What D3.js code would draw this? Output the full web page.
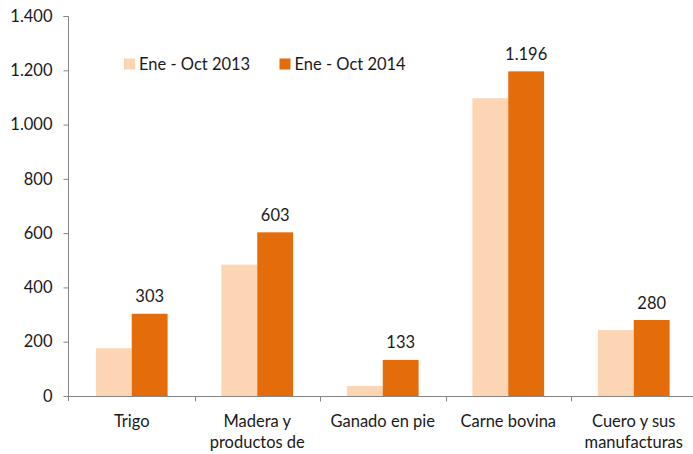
<!DOCTYPE html>
<html>
<head>
<meta charset="utf-8">
<script src="https://cdn.jsdelivr.net/npm/d3@7"></script>
<style>
  body { margin: 0; background: #fff; }
  text { font-family: Lato, "Open Sans", sans-serif; fill: #1a1a1a; }
</style>
</head>
<body>
<svg id="fig"></svg>
<script>
const categories = ['Trigo', 'Madera y productos de', 'Ganado en pie', 'Carne bovina', 'Cuero y sus manufacturas'];
const catLines = [['Trigo'], ['Madera y', 'productos de'], ['Ganado en pie'], ['Carne bovina'], ['Cuero y sus', 'manufacturas']];
const series = ['Ene - Oct 2013', 'Ene - Oct 2014'];
const values2013 = [176, 484, 37, 1097, 243];
const values2014 = [303, 603, 133, 1196, 280];
const labels2014 = ['303', '603', '133', '1.196', '280'];
const yTicks = [0, 200, 400, 600, 800, 1000, 1200, 1400];
const colors = ['#FCD5B5', '#E46C0A'];

const width = 693, height = 454;
const fmt = d => d3.format(',')(d).replace(/,/g, '.');

const svg = d3.select('#fig').attr('width', width).attr('height', height);

const yScale = d3.scaleLinear().domain([0, 1400]).range([396, 16]);
const xScale = d3.scaleBand().domain(categories).range([69, 696.5]).padding(0);
const xInner = d3.scaleBand().domain(series).range([0, xScale.bandwidth()])
    .paddingInner(0).paddingOuter(0.75);

// y axis
const yAxis = svg.append('g').attr('transform', 'translate(68.5,0)')
    .call(d3.axisLeft(yScale).tickValues(yTicks).tickSize(5).tickPadding(11).tickFormat(fmt));
yAxis.select('.domain').attr('stroke', '#868686').attr('d', 'M-5,16.5H0V401');
yAxis.selectAll('.tick line').attr('stroke', '#868686');
yAxis.selectAll('.tick text').style('font-size', '16.5px').attr('fill', '#1a1a1a');

// bars
const data = categories.map((c, i) => ({ cat: c, vals: [values2013[i], values2014[i]], label: labels2014[i] }));
const groups = svg.selectAll('g.cat').data(data).enter().append('g')
    .attr('class', 'cat')
    .attr('transform', d => `translate(${xScale(d.cat)},0)`);
groups.selectAll('rect').data(d => d.vals.map((v, j) => ({ s: series[j], v: v, j: j })))
    .enter().append('rect')
    .attr('x', d => xInner(d.s))
    .attr('width', xInner.bandwidth())
    .attr('y', d => yScale(d.v))
    .attr('height', d => yScale(0) - yScale(d.v))
    .attr('fill', d => colors[d.j]);
groups.append('text')
    .attr('x', xInner(series[1]) + xInner.bandwidth() / 2)
    .attr('y', d => yScale(d.vals[1]) - 11.5)
    .attr('text-anchor', 'middle')
    .style('font-size', '16.5px')
    .text(d => d.label);

// x axis
const xAxisG = svg.append('g').attr('transform', 'translate(0,396.5)');
xAxisG.append('line').attr('x1', 68.5).attr('x2', 693).attr('stroke', '#868686');
const bounds = categories.map(c => xScale(c)).concat([xScale.range()[1]]);
xAxisG.selectAll('line.tk').data(bounds.slice(1)).enter().append('line')
    .attr('class', 'tk')
    .attr('x1', d => Math.round(d) + 0.5).attr('x2', d => Math.round(d) + 0.5)
    .attr('y1', 0).attr('y2', 5).attr('stroke', '#868686');

svg.selectAll('text.cat').data(categories).enter().append('text')
    .attr('class', 'cat')
    .attr('text-anchor', 'middle')
    .attr('x', d => xScale(d) + xScale.bandwidth() / 2)
    .attr('y', 427)
    .style('font-size', '16.5px')
    .selectAll('tspan').data((d, i) => catLines[i]).enter().append('tspan')
    .attr('x', function () { return d3.select(this.parentNode).attr('x'); })
    .attr('dy', (d, k) => k === 0 ? 0 : 21)
    .text(d => d);

// legend
const legend = svg.append('g');
const legX = [124, 279.5];
series.forEach((s, i) => {
  legend.append('rect').attr('x', legX[i]).attr('y', 58.5).attr('width', 11).attr('height', 11).attr('fill', colors[i]);
  legend.append('text').attr('x', legX[i] + 15).attr('y', 69.5).style('font-size', '16.5px').text(s);
});
</script>
</body>
</html>
